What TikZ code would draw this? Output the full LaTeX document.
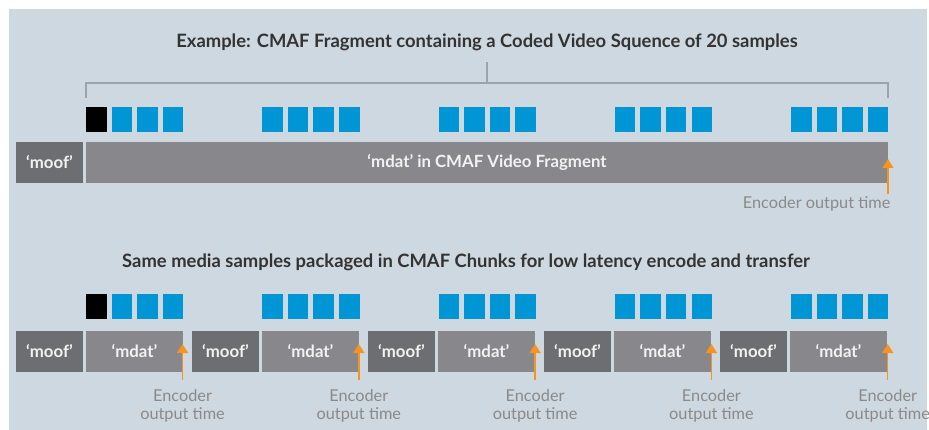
\documentclass[tikz,border=0pt]{standalone}
\usepackage{fontspec}
\setmainfont{Lato}
\usetikzlibrary{arrows.meta}

\definecolor{panel}{HTML}{CED8E0}
\definecolor{moofgray}{HTML}{6D6E71}
\definecolor{mdatgray}{HTML}{88878C}
\definecolor{sampleblue}{HTML}{0096D6}
\definecolor{timeorange}{HTML}{F7941D}
\definecolor{bracketgray}{HTML}{9AA4AD}
\definecolor{titleink}{HTML}{333333}
\definecolor{labelink}{HTML}{8A8A8A}

\tikzset{
  titletext/.style={font=\fontsize{18.4}{22}\selectfont\bfseries, text=titleink, inner sep=0pt},
  boxbase/.style={anchor=north west, inner sep=0pt, outer sep=0pt,
    font=\fontsize{16.8}{20}\selectfont\bfseries, text=white!95!black},
  moofbox/.style={boxbase, fill=moofgray, minimum width=67pt, minimum height=41pt},
  mdatbox/.style={boxbase, fill=mdatgray, minimum height=41pt},
  sample/.style={anchor=north west, inner sep=0pt, outer sep=0pt,
    fill=sampleblue, minimum width=20.5pt, minimum height=25pt},
  keysample/.style={sample, fill=black},
  timearrow/.style={draw=timeorange, line width=1.5pt,
    -{Triangle[width=11pt,length=9pt]}},
  timelabel/.style={font=\fontsize{16.3}{18}\selectfont, text=labelink, inner sep=0pt},
  bracket/.style={draw=bracketgray, line width=1.3pt},
}

\begin{document}
\begin{tikzpicture}[x=1pt,y=-1pt]
  \useasboundingbox (0,0) rectangle (929,430);
  \fill[panel] (9,9) rectangle (927,430);

  % ---------- upper part: one fragment ----------
  \node[titletext] (title1) at (487,42)
    {Example: CMAF Fragment containing a Coded Video Squence of 20 samples};

  % bracket over the 20 samples
  \coordinate (brL) at (86,98);
  \coordinate (brLc) at (86,83);
  \coordinate (brRc) at (888,83);
  \coordinate (brR) at (888,98);
  \coordinate (brM) at (487,83);
  \coordinate (brT) at (487,62);
  \draw[bracket] (brL) -- (brLc) -- (brRc) -- (brR);
  \draw[bracket] (brM) -- (brT);

  % samples above the fragment
  \foreach \g in {0,...,4}{
    \foreach \i in {0,...,3}{
      \pgfmathsetmacro{\sx}{86+176.25*\g+25.6*\i}
      \ifnum\g=0 \ifnum\i=0
        \node[keysample] (ta-\g-\i) at (\sx,107) {};
      \else
        \node[sample] (ta-\g-\i) at (\sx,107) {};
      \fi\else
        \node[sample] (ta-\g-\i) at (\sx,107) {};
      \fi
    }
  }

  \node[moofbox] (fmoof) at (16,142) {‘moof’};
  \node[mdatbox, minimum width=802pt] (fmdat) at (86,142) {‘mdat’ in CMAF Video Fragment};

  \coordinate (fa0) at (888,194);
  \coordinate (fa1) at (888,159);
  \draw[timearrow] (fa0) -- (fa1);
  \node[timelabel, anchor=east] (flabel) at (890.5,204) {Encoder output time};

  % ---------- lower part: chunks ----------
  \node[titletext] (title2) at (466,262)
    {Same media samples packaged in CMAF Chunks for low latency encode and transfer};

  \foreach \g in {0,...,4}{
    \foreach \i in {0,...,3}{
      \pgfmathsetmacro{\sx}{86+176.25*\g+25.6*\i}
      \ifnum\g=0 \ifnum\i=0
        \node[keysample] (ba-\g-\i) at (\sx,294) {};
      \else
        \node[sample] (ba-\g-\i) at (\sx,294) {};
      \fi\else
        \node[sample] (ba-\g-\i) at (\sx,294) {};
      \fi
    }
  }

  \foreach \k in {0,...,4}{
    \pgfmathsetmacro{\mx}{16+176*\k}
    \pgfmathsetmacro{\dx}{86+176*\k}
    \pgfmathsetmacro{\ax}{182.5+176.3*\k}
    \node[moofbox] (cmoof-\k) at (\mx,331) {‘moof’};
    \node[mdatbox, minimum width=97pt] (cmdat-\k) at (\dx,331) {‘mdat’};
    \coordinate (ca0-\k) at (\ax,380);
    \coordinate (ca1-\k) at (\ax,344);
    \draw[timearrow] (ca0-\k) -- (ca1-\k);
    \node[timelabel, align=center] (clabel-\k) at (\ax,406) {Encoder\\output time};
  }
\end{tikzpicture}
\end{document}
